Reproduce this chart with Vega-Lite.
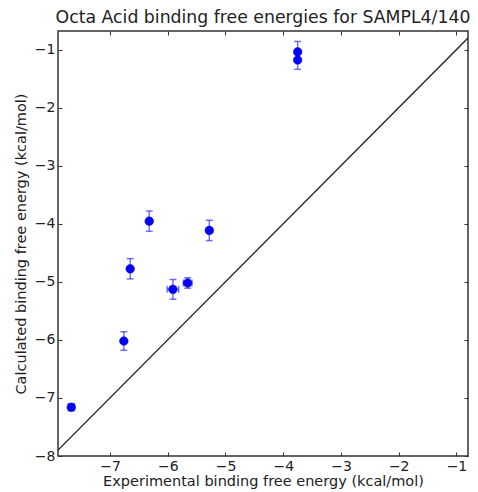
{
  "$schema": "https://vega.github.io/schema/vega-lite/v6.json",
  "autosize": "none",
  "width": 410,
  "height": 425,
  "padding": {"left": 58, "top": 31, "right": 10, "bottom": 36},
  "background": "white",
  "config": {
    "font": "DejaVu Sans",
    "view": {"stroke": "#333333", "strokeWidth": 1.5},
    "axis": {
      "grid": false,
      "domain": false,
      "tickSize": -4,
      "tickColor": "#333333",
      "labelPadding": 7,
      "labelFontSize": 14,
      "labelColor": "#222222",
      "titleFontSize": 14.5,
      "titleFontWeight": "normal",
      "titleColor": "#222222",
      "labelFont": "DejaVu Sans",
      "titleFont": "DejaVu Sans"
    }
  },
  "title": {
    "text": "Octa Acid binding free energies for SAMPL4/140",
    "fontSize": 17.3,
    "fontWeight": "normal",
    "font": "DejaVu Sans",
    "color": "#222222",
    "offset": 4
  },
  "datasets": {
    "pts": [
      {"x": -3.75, "y": -1.04, "xlo": -3.75, "xhi": -3.75, "ylo": -1.22, "yhi": -0.86},
      {"x": -3.75, "y": -1.18, "xlo": -3.75, "xhi": -3.75, "ylo": -1.34, "yhi": -1.02},
      {"x": -6.32, "y": -3.955, "xlo": -6.32, "xhi": -6.32, "ylo": -4.13, "yhi": -3.78},
      {"x": -5.28, "y": -4.115, "xlo": -5.28, "xhi": -5.28, "ylo": -4.29, "yhi": -3.94},
      {"x": -6.65, "y": -4.776, "xlo": -6.65, "xhi": -6.65, "ylo": -4.95, "yhi": -4.6},
      {"x": -5.91, "y": -5.13, "xlo": -6.01, "xhi": -5.81, "ylo": -5.3, "yhi": -4.96},
      {"x": -5.655, "y": -5.02, "xlo": -5.73, "xhi": -5.58, "ylo": -5.11, "yhi": -4.93},
      {"x": -6.76, "y": -6.02, "xlo": -6.76, "xhi": -6.76, "ylo": -6.18, "yhi": -5.86},
      {"x": -7.67, "y": -7.16, "xlo": -7.72, "xhi": -7.62, "ylo": -7.22, "yhi": -7.1}
    ],
    "diag": [
      {"x": -8, "y": -8},
      {"x": 0, "y": 0}
    ]
  },
  "resolve": {"axis": {"x": "independent", "y": "independent"}},
  "layer": [
    {
      "data": {"name": "diag"},
      "mark": {"type": "line", "color": "#222222", "strokeWidth": 1.3, "clip": true},
      "encoding": {
        "x": {"field": "x", "type": "quantitative", "scale": {"domain": [-7.9, -0.8], "nice": false, "zero": false},
              "axis": {"title": "Experimental binding free energy (kcal/mol)", "values": [-7, -6, -5, -4, -3, -2, -1], "titlePadding": 1}},
        "y": {"field": "y", "type": "quantitative", "scale": {"domain": [-8, -0.68], "nice": false, "zero": false},
              "axis": {"title": "Calculated binding free energy (kcal/mol)", "values": [-8, -7, -6, -5, -4, -3, -2, -1], "titlePadding": 6}}
      }
    },
    {
      "data": {"name": "pts"},
      "mark": {"type": "rule", "color": "#0000ff", "opacity": 0.55, "strokeWidth": 1.5},
      "encoding": {
        "x": {"field": "x", "type": "quantitative", "axis": {"orient": "top", "labels": false, "title": null, "values": [-7, -6, -5, -4, -3, -2, -1]}},
        "y": {"field": "ylo", "type": "quantitative", "axis": {"orient": "right", "labels": false, "title": null, "values": [-8, -7, -6, -5, -4, -3, -2, -1]}},
        "y2": {"field": "yhi"}
      }
    },
    {
      "data": {"name": "pts"},
      "mark": {"type": "rule", "color": "#0000ff", "opacity": 0.55, "strokeWidth": 1.5},
      "encoding": {
        "x": {"field": "xlo", "type": "quantitative", "axis": null},
        "x2": {"field": "xhi"},
        "y": {"field": "y", "type": "quantitative", "axis": null}
      }
    },
    {
      "data": {"name": "pts"},
      "mark": {"type": "tick", "color": "#0000ff", "opacity": 0.55, "orient": "horizontal", "size": 7, "thickness": 1.5},
      "encoding": {
        "x": {"field": "x", "type": "quantitative", "axis": null},
        "y": {"field": "yhi", "type": "quantitative", "axis": null}
      }
    },
    {
      "data": {"name": "pts"},
      "mark": {"type": "tick", "color": "#0000ff", "opacity": 0.55, "orient": "horizontal", "size": 7, "thickness": 1.5},
      "encoding": {
        "x": {"field": "x", "type": "quantitative", "axis": null},
        "y": {"field": "ylo", "type": "quantitative", "axis": null}
      }
    },
    {
      "data": {"name": "pts"},
      "mark": {"type": "tick", "color": "#0000ff", "opacity": 0.55, "orient": "vertical", "size": 7, "thickness": 1.5},
      "encoding": {
        "x": {"field": "xlo", "type": "quantitative", "axis": null},
        "y": {"field": "y", "type": "quantitative", "axis": null}
      }
    },
    {
      "data": {"name": "pts"},
      "mark": {"type": "tick", "color": "#0000ff", "opacity": 0.55, "orient": "vertical", "size": 7, "thickness": 1.5},
      "encoding": {
        "x": {"field": "xhi", "type": "quantitative", "axis": null},
        "y": {"field": "y", "type": "quantitative", "axis": null}
      }
    },
    {
      "data": {"name": "pts"},
      "mark": {"type": "point", "filled": true, "color": "#0000ff", "opacity": 1, "size": 75, "stroke": "#0000cc", "strokeWidth": 0.5},
      "encoding": {
        "x": {"field": "x", "type": "quantitative", "axis": null},
        "y": {"field": "y", "type": "quantitative", "axis": null}
      }
    }
  ]
}
